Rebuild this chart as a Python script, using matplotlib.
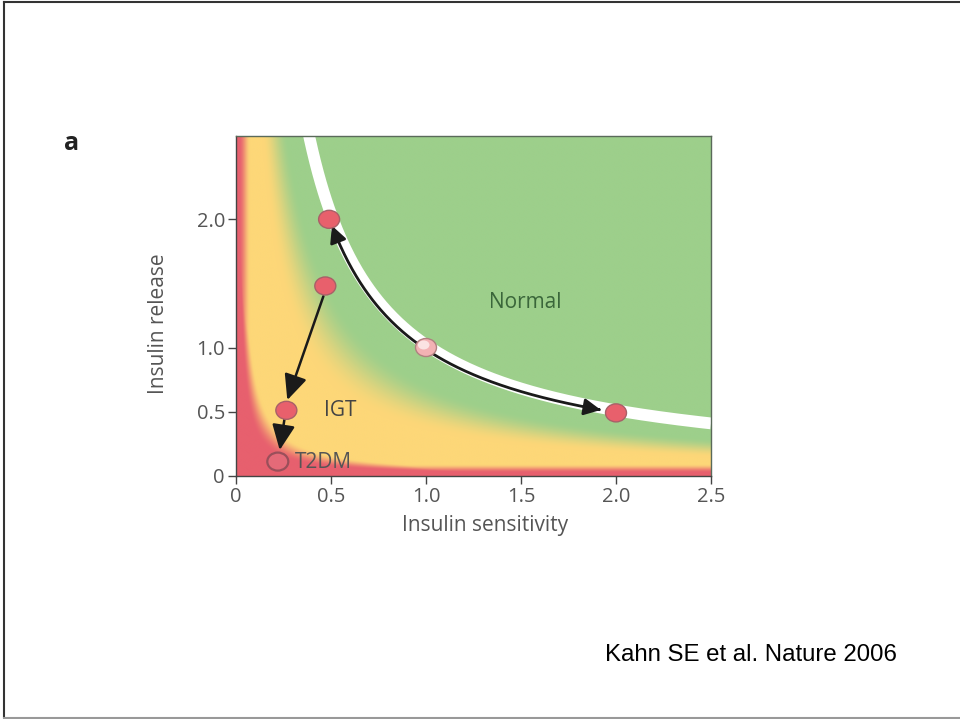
import numpy as np
import matplotlib
matplotlib.use("Agg")
import matplotlib.pyplot as plt
from matplotlib.patches import Ellipse, FancyArrowPatch
from matplotlib.path import Path
from matplotlib.lines import Line2D

# --- data ------------------------------------------------------------------
x_ticks = [0, 0.5, 1.0, 1.5, 2.0, 2.5]
x_tick_labels = ["0", "0.5", "1.0", "1.5", "2.0", "2.5"]
y_ticks = [0, 0.5, 1.0, 2.0]
y_tick_labels = ["0", "0.5", "1.0", "2.0"]

# hyperbola  sensitivity * release = const
curve_const = 1.0
# subjects on / off the curve
pts_x = [0.49, 0.47, 2.0, 0.265]
pts_y = [2.0, 1.48, 0.49, 0.51]
ref_pt = (1.0, 1.0)       # light "reference" subject
t2dm_pt = (0.22, 0.11)
# arrows (start, end)
arrow_igt = ((0.46, 1.40), (0.27, 0.59))
arrow_t2dm = ((0.255, 0.44), (0.23, 0.20))
curve_arrow_x = (0.505, 1.92)

region_labels = ["Normal", "IGT", "T2DM"]
region_pos = [(1.52, 1.35), (0.55, 0.51), (0.46, 0.10)]

GREEN = np.array([157, 207, 139]) / 255
YELLOW = np.array([253, 215, 120]) / 255
RED = np.array([231, 96, 110]) / 255
TXT = "#555555"

fig = plt.figure(figsize=(9.6, 7.19), dpi=100)
plt.rcParams["font.family"] = ["Open Sans", "DejaVu Sans"]

ax = fig.add_axes([236 / 960, 1 - 475.7 / 719, 475 / 960, 339.7 / 719])
xmax, ymax = 2.5, 2.65


def smoothstep(a, b, v):
    t = np.clip((v - a) / (b - a), 0, 1)
    return t * t * (3 - 2 * t)


# background field (disposition index)
gx = np.linspace(0, xmax, 700)
gy = np.linspace(0, ymax, 500)
X, Y = np.meshgrid(gx, gy)
D = X * Y
g = smoothstep(0.36, 0.72, D)[..., None]
r = np.maximum.reduce([
    1 - smoothstep(0.035, 0.08, D),
    1 - smoothstep(0.015, 0.075, X),
    1 - smoothstep(0.025, 0.09, Y),
])[..., None]
img = r * RED + (1 - r) * (YELLOW * (1 - g) + GREEN * g)
ax.imshow(img, origin="lower", extent=[0, xmax, 0, ymax], aspect="auto",
          interpolation="bilinear", zorder=0)

# white hyperbola
cx = np.linspace(0.36, xmax, 300)
ax.plot(cx, 1.02 * curve_const / cx, color="white", lw=8.5,
        solid_capstyle="butt", zorder=2)

# black double arrow along the curve
bx = np.linspace(curve_arrow_x[0], curve_arrow_x[1], 200)
by = 0.985 * curve_const / bx
arr = FancyArrowPatch(path=Path(np.column_stack([bx, by])),
                      arrowstyle="<|-|>,head_length=10,head_width=5",
                      color="#1a1a1a", lw=2.0, zorder=3)
ax.add_patch(arr)

for (s, e) in [arrow_igt, arrow_t2dm]:
    ax.annotate("", xy=e, xytext=s,
                arrowprops=dict(arrowstyle="-|>,head_length=1.1,head_width=0.5",
                                color="#1a1a1a", lw=1.8, mutation_scale=14,
                                shrinkA=0, shrinkB=0), zorder=3)

# markers (ellipses in data space so they look slightly wide, like the figure)
ew, eh = 21 / 190, 18 / 128
for px, py in zip(pts_x, pts_y):
    ax.add_patch(Ellipse((px, py), ew, eh, facecolor="#e8606c",
                         edgecolor="#a86068", lw=1.0, zorder=4))
ax.add_patch(Ellipse(ref_pt, ew, eh, facecolor="#f3b2b4",
                     edgecolor="#b08080", lw=1.0, zorder=4))
ax.add_patch(Ellipse((ref_pt[0] - 0.012, ref_pt[1] + 0.02), ew * 0.55, eh * 0.5,
                     facecolor="#fbe3e3", edgecolor="none", zorder=5))
ax.add_patch(Ellipse(t2dm_pt, ew, eh, facecolor="#e46a78",
                     edgecolor="#9a4f5a", lw=1.6, zorder=4))

# region labels
ax.text(*region_pos[0], region_labels[0], color="#3a663a", fontsize=15,
        ha="center", va="center", zorder=6)
ax.text(*region_pos[1], region_labels[1], color="#444444", fontsize=15,
        ha="center", va="center", zorder=6)
ax.text(*region_pos[2], region_labels[2], color="#555555", fontsize=15,
        ha="center", va="center", zorder=6)

ax.set_xlim(0, xmax)
ax.set_ylim(0, ymax)
ax.set_xticks(x_ticks, x_tick_labels)
ax.set_yticks(y_ticks, y_tick_labels)
ax.tick_params(axis="both", direction="out", length=6, width=1.0,
               color="#444444", labelcolor=TXT, labelsize=14.5, pad=2)
for sp in ax.spines.values():
    sp.set_color("#5a6a5a")
    sp.set_linewidth(1.0)
ax.spines["left"].set_color("#444444")
ax.spines["bottom"].set_color("#444444")

ax.set_xlabel("Insulin sensitivity", color=TXT, fontsize=15)
ax.set_ylabel("Insulin release", color=TXT, fontsize=15)
ax.xaxis.set_label_coords(0.524, -0.115)
ax.yaxis.set_label_coords(-0.14, 0.448)

fig.text(72 / 960, 1 - 144 / 719, "a", fontsize=18, fontweight="bold",
         color="#222222", ha="center", va="center")
fig.text(897 / 960, 1 - 661 / 719, "Kahn SE et al. Nature 2006",
         fontsize=17.3, family=["Liberation Sans", "DejaVu Sans"],
         color="black", ha="right", va="baseline")

# slide frame
fig.add_artist(Line2D([4 / 960, 4 / 960], [1 - 1.5 / 719, 1 - 717 / 719],
                      transform=fig.transFigure, color="#333333", lw=1.5))
fig.add_artist(Line2D([4 / 960, 1], [1 - 1.5 / 719, 1 - 1.5 / 719],
                      transform=fig.transFigure, color="#333333", lw=1.5))
fig.add_artist(Line2D([4 / 960, 1], [1 - 717.5 / 719, 1 - 717.5 / 719],
                      transform=fig.transFigure, color="#999999", lw=1.5))

fig.savefig("out.png", dpi=100)
